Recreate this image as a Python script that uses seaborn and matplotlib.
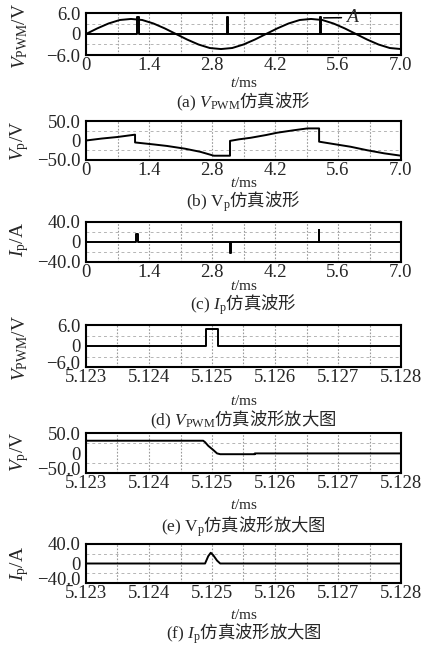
import matplotlib
matplotlib.use("Agg")
import matplotlib.pyplot as plt
import matplotlib.transforms as mtransforms
import seaborn as sns

# ---------------- data ----------------
# (a) carrier (sine) and PWM output, t in ms
t_a = [0, 0.25, 0.5, 0.75, 1.0, 1.25, 1.5, 1.75, 2.0, 2.25, 2.5, 2.75, 3.0,
       3.25, 3.5, 3.75, 4.0, 4.25, 4.5, 4.75, 5.0, 5.25, 5.5, 5.75, 6.0,
       6.25, 6.5, 6.75, 7.0]
v_sine_a = [0, 1.6, 3.0, 4.0, 4.3, 4.0, 3.0, 1.6, 0, -1.6, -3.0, -4.0, -4.3,
            -4.0, -3.0, -1.6, 0, 1.6, 3.0, 4.0, 4.3, 4.0, 3.0, 1.6, 0,
            -1.6, -3.0, -4.0, -4.3]
t_pwm_a = [0, 1.14, 1.14, 1.17, 1.17, 3.13, 3.13, 3.16, 3.16, 5.20, 5.20,
           5.23, 5.23, 7.0]
v_pwm_a = [0, 0, 5.0, 5.0, 0, 0, 5.0, 5.0, 0, 0, 4.8, 4.8, 0, 0]

# (b) Vp
t_b = [0, 0.35, 0.7, 1.09, 1.09, 1.5, 1.8, 2.2, 2.54, 2.84, 3.2, 3.2, 3.4,
       3.66, 4.0, 4.25, 4.6, 4.92, 5.18, 5.18, 5.5, 5.88, 6.25, 6.63, 7.0]
v_b = [0, 5, 9, 15, -5, -10, -14, -21, -29, -39, -39, -1, 3,
       7, 14, 20, 26, 31, 31, -3, -9, -16, -25, -33, -39]

# (c) Ip
t_c = [0, 1.12, 1.12, 1.15, 1.15, 3.20, 3.20, 3.23, 3.23, 5.18, 5.18, 5.18, 7.0]
v_c = [0, 0, 17, 17, 0, 0, -21, -21, 0, 0, 25, 0, 0]

# (d) V_PWM zoomed
t_d = [5.123, 5.12490, 5.12490, 5.12509, 5.12509, 5.128]
v_d = [0, 0, 4.8, 4.8, 0, 0]

# (e) Vp zoomed
t_e = [5.123, 5.12486, 5.12489, 5.12494, 5.12502, 5.12508, 5.12513,
       5.12568, 5.12568, 5.128]
v_e = [30.7, 30.7, 27, 18, 7.5, -1, -3, -3, -1, -1]

# (f) Ip zoomed
t_f = [5.123, 5.12489, 5.12494, 5.12498, 5.12502, 5.12508, 5.12513, 5.128]
v_f = [0, 0, 15, 22, 17, 6, 0, 0]

xt_full = [0, 1.4, 2.8, 4.2, 5.6, 7.0]
xt_full_lab = ["0", "1.4", "2.8", "4.2", "5.6", "7.0"]
xg_full = [0.7, 2.1, 3.5, 4.9, 6.3]
xt_zoom = [5.123, 5.124, 5.125, 5.126, 5.127, 5.128]
xt_zoom_lab = ["5.123", "5.124", "5.125", "5.126", "5.127", "5.128"]
xg_zoom = [5.1235, 5.1245, 5.1255, 5.1265, 5.1275]

ylabels = [r"$V_{\mathrm{PWM}}/\mathrm{V}$", r"$V_{\mathrm{p}}/\mathrm{V}$",
           r"$I_{\mathrm{p}}/\mathrm{A}$", r"$V_{\mathrm{PWM}}/\mathrm{V}$",
           r"$V_{\mathrm{p}}/\mathrm{V}$", r"$I_{\mathrm{p}}/\mathrm{A}$"]
ylims = [6, 50, 40, 6, 50, 40]
ytick_labs = [["\u22126.0", "0", "6.0"], ["\u221250.0", "0", "50.0"],
              ["\u221240.0", "0", "40.0"], ["\u22126.0", "0", "6.0"],
              ["\u221250.0", "0", "50.0"], ["\u221240.0", "0", "40.0"]]
captions = [r"$\mathrm{(a)}\ V_{\mathrm{PWM}}$仿真波形",
            r"$\mathrm{(b)}\ \mathrm{V}_{\mathrm{p}}$仿真波形",
            r"$\mathrm{(c)}\ I_{\mathrm{p}}$仿真波形",
            r"$\mathrm{(d)}\ V_{\mathrm{PWM}}$仿真波形放大图",
            r"$\mathrm{(e)}\ \mathrm{V}_{\mathrm{p}}$仿真波形放大图",
            r"$\mathrm{(f)}\ I_{\mathrm{p}}$仿真波形放大图"]

# ---------------- style ----------------
sns.set_style("white")
plt.rcParams["font.family"] = ["Liberation Serif", "Noto Sans CJK SC", "DejaVu Sans"]
plt.rcParams["mathtext.fontset"] = "custom"
plt.rcParams["mathtext.rm"] = "Liberation Serif"
plt.rcParams["mathtext.it"] = "Liberation Serif:italic"
plt.rcParams["mathtext.bf"] = "Liberation Serif:bold"
plt.rcParams["axes.unicode_minus"] = True

W, H = 426, 648
fig = plt.figure(figsize=(W / 100, H / 100), dpi=100)
fig.patch.set_facecolor("white")

# pixel boxes: left, right, top, bottom
boxes = [(86, 401, 13, 55), (86, 401, 121, 160), (86, 401, 222, 262),
         (86, 401, 325, 367), (86, 401, 433, 473), (86, 401, 544, 583)]
ylab_y = [36, 141, 239, 348, 452, 563]
xlab_y = [83, 183, 286, 401, 505, 615]
cap_y = [102, 202, 305, 420, 527, 634]

series = [[(t_a, v_sine_a), (t_pwm_a, v_pwm_a)], [(t_b, v_b)], [(t_c, v_c)],
          [(t_d, v_d)], [(t_e, v_e)], [(t_f, v_f)]]

for i in range(6):
    l, r, t, b = boxes[i]
    ax = fig.add_axes([l / W, 1 - b / H, (r - l) / W, (b - t) / H])
    ax.set_facecolor("white")
    for (tx, vy) in series[i]:
        sns.lineplot(x=tx, y=vy, ax=ax, color="black", lw=1.4, sort=False,
                     estimator=None, legend=False)
    zoom = i >= 3
    if zoom:
        ax.set_xlim(5.123, 5.128)
        ax.set_xticks(xt_zoom)
        ax.set_xticklabels(xt_zoom_lab)
        ax.set_xticks(xg_zoom, minor=True)
    else:
        ax.set_xlim(0, 7.0)
        ax.set_xticks(xt_full)
        ax.set_xticklabels(xt_full_lab)
        ax.set_xticks(xg_full, minor=True)
    yl = ylims[i]
    ax.set_ylim(-yl, yl)
    ax.set_yticks([-yl, 0, yl])
    ax.set_yticklabels(ytick_labs[i])
    ax.set_yticks([-yl / 2, yl / 2], minor=True)
    ax.grid(axis="x", which="both", color="#9a9a9a", lw=0.8, ls=(0, (1.5, 1.5)))
    ax.grid(axis="y", which="minor", color="#b5b5b5", lw=0.7, ls=(0, (3, 3)))
    ax.grid(axis="y", which="major", visible=False)
    ax.tick_params(which="both", length=0)
    ax.tick_params(axis="x", pad=1.5, labelsize=13.5)
    ax.tick_params(axis="y", pad=4, labelsize=13.5)
    if zoom:
        # lift the bottom y tick label slightly, as in the reference
        lab = ax.get_yticklabels()[0]
        lab.set_transform(lab.get_transform() +
                          mtransforms.ScaledTranslation(0, 3 / 72, fig.dpi_scale_trans))
    for s in ax.spines.values():
        s.set_color("black")
        s.set_linewidth(1.5)
    ax.set_xlabel("")
    ax.set_ylabel("")
    if i == 0:
        ax.annotate("$A$", xy=(5.25, 4.6), xytext=(5.75, 4.7),
                    fontsize=14, va="center", ha="left",
                    arrowprops=dict(arrowstyle="-", lw=1.1, color="black",
                                    shrinkA=0, shrinkB=1))
    fig.text(20 / W, 1 - ylab_y[i] / H, ylabels[i], rotation=90,
             ha="center", va="center", fontsize=14)
    fig.text(243.5 / W, 1 - xlab_y[i] / H, r"$t/\mathrm{ms}$",
             ha="center", va="center", fontsize=11)
    fig.text(243.5 / W, 1 - cap_y[i] / H, captions[i], ha="center",
             va="center", fontsize=12.5, family="Noto Sans CJK SC")

fig.savefig("out.png", dpi=100, facecolor="white")
